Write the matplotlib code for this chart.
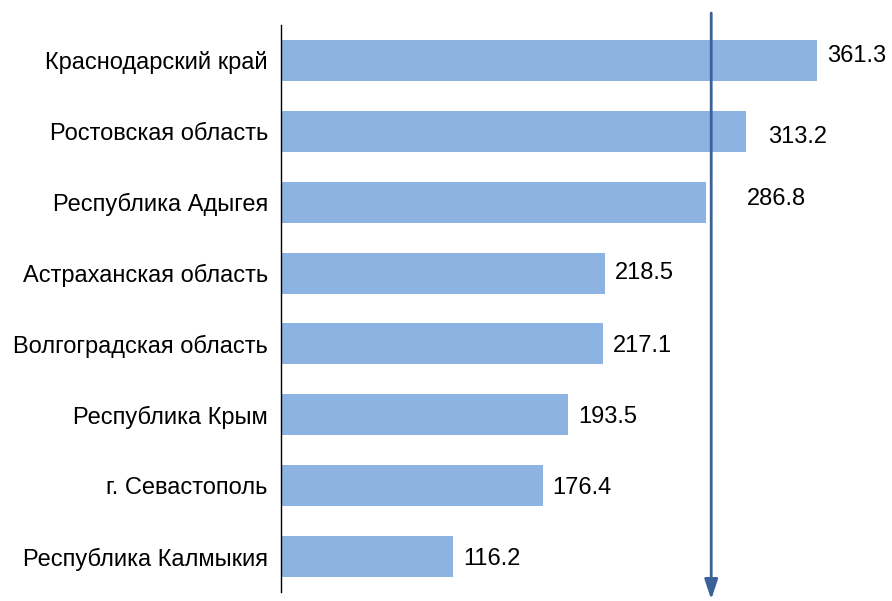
import matplotlib
matplotlib.use("Agg")
import matplotlib.pyplot as plt

regions = ["Краснодарский край", "Ростовская область", "Республика Адыгея",
           "Астраханская область", "Волгоградская область", "Республика Крым",
           "г. Севастополь", "Республика Калмыкия"]
values = [361.3, 313.2, 286.8, 218.5, 217.1, 193.5, 176.4, 116.2]
mean_level = 290.0

plt.rcParams['font.family'] = ['Liberation Sans', 'DejaVu Sans']
FS = 17

fig = plt.figure(figsize=(8.92, 6.01), dpi=100)
ax = fig.add_axes([281/892, 9/601, 611/892, 567/601])

y = list(range(len(values)))
ax.barh(y, values, height=0.58, color='#8db3e2', left=0)
ax.set_ylim(len(values) - 0.5, -0.5)
ax.set_xlim(0, 611/1.4835)

# value labels (pixel offsets); a few are pushed right to clear the arrow
nudge = {0: (10, 4), 1: (22, -6), 2: (40, 3), 3: (10, 0)}
for i, v in enumerate(values):
    dx, dy = nudge.get(i, (10, -2))
    ax.annotate(f"{v:.1f}", xy=(v, i), xytext=(dx * 0.72, dy * 0.72),
                textcoords='offset points', va='center', ha='left', fontsize=FS)

ax.set_yticks(y)
ax.set_yticklabels(regions, fontsize=FS)
ax.tick_params(axis='y', length=0, pad=9.5)
ax.set_xticks([])
for s in ['top', 'right', 'bottom']:
    ax.spines[s].set_visible(False)
ax.spines['left'].set_color('black')
ax.spines['left'].set_linewidth(1)

# downward arrow at the mean level
ax.annotate('', xy=(mean_level, -0.018), xytext=(mean_level, 1.026),
            xycoords=ax.get_xaxis_transform(), textcoords=ax.get_xaxis_transform(),
            arrowprops=dict(arrowstyle='-|>,head_length=1.2,head_width=0.4',
                            color='#3a6198', lw=2), annotation_clip=False)

fig.savefig("out.png", dpi=100)
